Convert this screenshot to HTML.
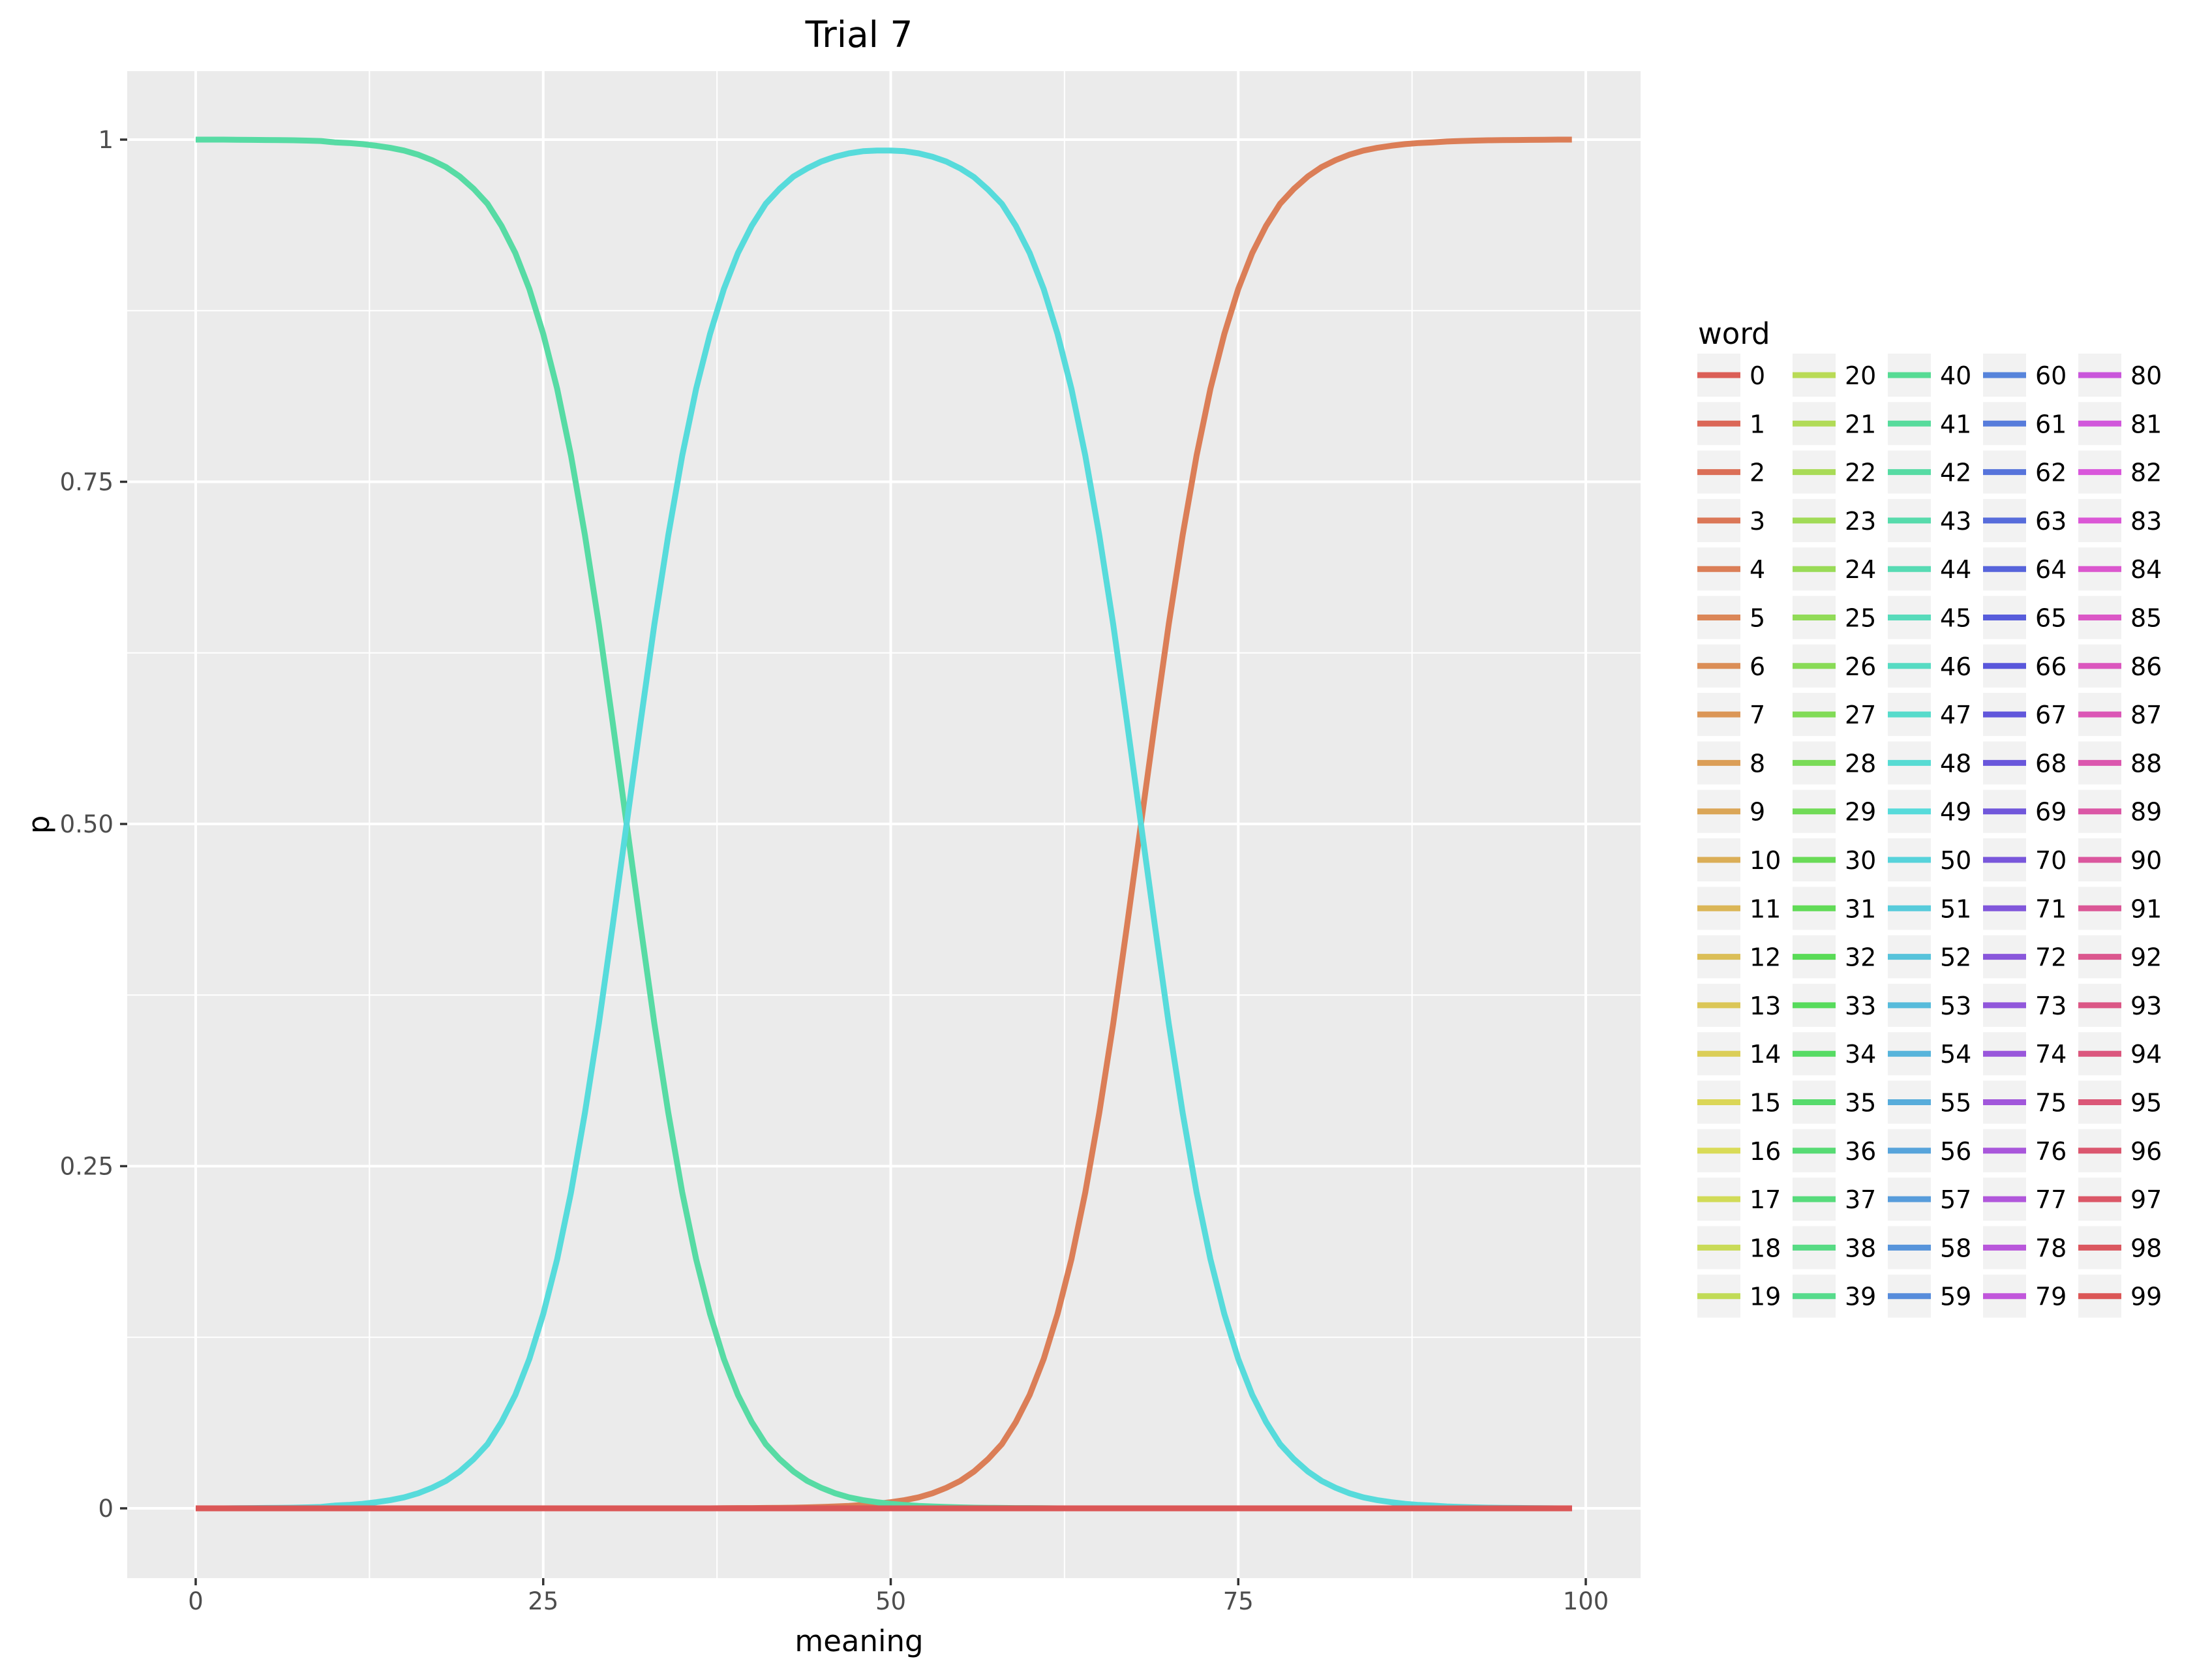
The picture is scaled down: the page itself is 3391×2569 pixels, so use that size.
<!DOCTYPE html>
<html><head><meta charset="utf-8"><style>
html,body{margin:0;padding:0;background:#fff;}
svg{display:block;font-family:"DejaVu Sans","Liberation Sans",sans-serif;}
</style></head><body>
<svg id="chart" width="3391" height="2569" viewBox="0 0 3391 2569" xmlns="http://www.w3.org/2000/svg">
<rect x="0" y="0" width="3391" height="2569" fill="#fff"/>
<text x="1317" y="72" font-size="55" text-anchor="middle" fill="#000">Trial 7</text>
<rect x="195" y="109" width="2320" height="2310" fill="#ebebeb"/>
<g id="grid"></g>
<g id="axes"></g>
<g id="series"></g>
<text x="1317" y="2531" font-size="45" text-anchor="middle" fill="#000">meaning</text>
<text x="0" y="0" font-size="45" text-anchor="middle" fill="#000" transform="translate(75,1264) rotate(-90)">p</text>
<text x="2603" y="527" font-size="45" fill="#000">word</text>
<g id="legend"></g>
</svg>
<script>
const xTicks = [0, 25, 50, 75, 100];
const yTicks = [0, 0.25, 0.5, 0.75, 1];
const yTickLabels = ["0", "0.25", "0.50", "0.75", "1"];
const words = Array.from({length: 100}, (_, i) => i);
const meaning = Array.from({length: 100}, (_, i) => i);
// word 42 (falling), word 49 (bump), word 4 (rising); all other words are 0
const word42 = [1,1,1,0.9999,0.9998,0.9997,0.9996,0.9995,0.9993,0.999,0.998,0.9975,0.9967,0.9955,0.994,0.992,0.989,0.985,0.98,0.973,0.964,0.953,0.937,0.917,0.891,0.858,0.818,0.769,0.711,0.646,0.574,0.5,0.426,0.354,0.289,0.231,0.182,0.142,0.109,0.083,0.063,0.047,0.036,0.027,0.020,0.015,0.011,0.008,0.006,0.0045,0.0033,0.0025,0.0018,0.0014,0.001,0.0007,0.0005,0.0004,0.0003,0.0002,0.0002,0.0001,0,0,0,0,0,0,0,0,0,0,0,0,0,0,0,0,0,0,0,0,0,0,0,0,0,0,0,0,0,0,0,0,0,0,0,0,0,0];
const word49 = [0,0,0,0.0001,0.0002,0.0003,0.0004,0.0005,0.0007,0.001,0.002,0.0025,0.0033,0.0045,0.006,0.008,0.011,0.015,0.02,0.027,0.036,0.047,0.063,0.083,0.109,0.142,0.182,0.231,0.289,0.354,0.426,0.5,0.574,0.646,0.711,0.769,0.818,0.858,0.891,0.917,0.937,0.953,0.964,0.973,0.979,0.984,0.9875,0.990,0.9915,0.992,0.992,0.9915,0.990,0.9875,0.984,0.979,0.9725,0.9635,0.953,0.937,0.917,0.891,0.858,0.818,0.769,0.711,0.646,0.574,0.5,0.426,0.354,0.289,0.231,0.182,0.142,0.109,0.083,0.063,0.047,0.036,0.027,0.02,0.015,0.011,0.008,0.006,0.0045,0.0033,0.0025,0.002,0.0014,0.001,0.0007,0.0005,0.0004,0.0003,0.0002,0.0001,0,0];
const word4 = [0,0,0,0,0,0,0,0,0,0,0,0,0,0,0,0,0,0,0,0,0,0,0,0,0,0,0,0,0,0,0,0,0,0,0,0,0,0,0.0001,0.0002,0.0002,0.0003,0.0004,0.0005,0.0007,0.001,0.0014,0.0018,0.0025,0.0033,0.0045,0.006,0.008,0.011,0.015,0.020,0.027,0.036,0.047,0.063,0.083,0.109,0.142,0.182,0.231,0.289,0.354,0.426,0.5,0.574,0.646,0.711,0.769,0.818,0.858,0.891,0.917,0.937,0.953,0.964,0.973,0.98,0.985,0.989,0.992,0.994,0.9955,0.9967,0.9975,0.998,0.9986,0.999,0.9993,0.9995,0.9996,0.9997,0.9998,0.9999,1,1];

const NS = "http://www.w3.org/2000/svg";
const P = {l:195, r:2515, t:109, b:2419};
function xs(v){ return 300 + v * (2431 - 300) / 100; }
function ys(v){ return 2312 - v * 2098; }
function color(i){ return "hsl(" + (3.6 + 3.6 * i) + ",65%,60%)"; }
function mk(tag, attrs, parent){
  const e = document.createElementNS(NS, tag);
  for (const k in attrs) e.setAttribute(k, attrs[k]);
  parent.appendChild(e);
  return e;
}
const grid = document.getElementById("grid");
const axes = document.getElementById("axes");
for (let i = 0; i < xTicks.length - 1; i++) {
  const m = (xTicks[i] + xTicks[i+1]) / 2;
  const l = mk("line", {x1: xs(m), x2: xs(m), y1: P.t, y2: P.b, stroke: "#fff", "stroke-width": 2}, grid);
  
  
}
for (let i = 0; i < yTicks.length - 1; i++) {
  const m = (yTicks[i] + yTicks[i+1]) / 2;
  const l = mk("line", {x1: P.l, x2: P.r, y1: ys(m), y2: ys(m), stroke: "#fff", "stroke-width": 2}, grid);
  
  
}
xTicks.forEach(t => {
  const l = mk("line", {x1: xs(t), x2: xs(t), y1: P.t, y2: P.b, stroke: "#fff", "stroke-width": 4}, grid);
  
  
  const tk = mk("line", {x1: xs(t), x2: xs(t), y1: P.b, y2: P.b + 11, stroke: "#333", "stroke-width": 3.5}, axes);
  
  
  const tx = mk("text", {x: xs(t), y: 2467, "font-size": 37, "text-anchor": "middle", fill: "#4d4d4d"}, axes);
  tx.textContent = String(t);
  
  
});
yTicks.forEach((t, i) => {
  const l = mk("line", {x1: P.l, x2: P.r, y1: ys(t), y2: ys(t), stroke: "#fff", "stroke-width": 4}, grid);
  
  
  const tk = mk("line", {x1: P.l - 11, x2: P.l, y1: ys(t), y2: ys(t), stroke: "#333", "stroke-width": 3.5}, axes);
  
  
  const tx = mk("text", {x: 174, y: ys(t) + 13, "font-size": 37, "text-anchor": "end", fill: "#4d4d4d"}, axes);
  tx.textContent = yTickLabels[i];
  
  
});
const series = document.getElementById("series");
function valuesFor(w){
  if (w === 42) return word42;
  if (w === 49) return word49;
  if (w === 4) return word4;
  return meaning.map(() => 0);
}
words.forEach(w => {
  const vals = valuesFor(w);
  const d = meaning.map((m, i) => (i ? "L" : "M") + xs(m).toFixed(1) + " " + ys(vals[i]).toFixed(1)).join(" ");
  const p = mk("path", {d: d, fill: "none", stroke: color(w), "stroke-width": 9, "stroke-linejoin": "round"}, series);
  
  
});
const legend = document.getElementById("legend");
words.forEach(w => {
  const col = Math.floor(w / 20), row = w % 20;
  const x = 2602 + col * 146, y = 542 + row * 74.3;
  const g = mk("g", {}, legend);
  
  
  mk("rect", {x: x, y: y, width: 66, height: 66, fill: "#f2f2f2"}, g);
  mk("line", {x1: x, x2: x + 66, y1: y + 33, y2: y + 33, stroke: color(w), "stroke-width": 9}, g);
  const t = mk("text", {x: x + 80, y: y + 47, "font-size": 38, fill: "#000"}, g);
  t.textContent = String(w);
});
</script>
</body></html>
